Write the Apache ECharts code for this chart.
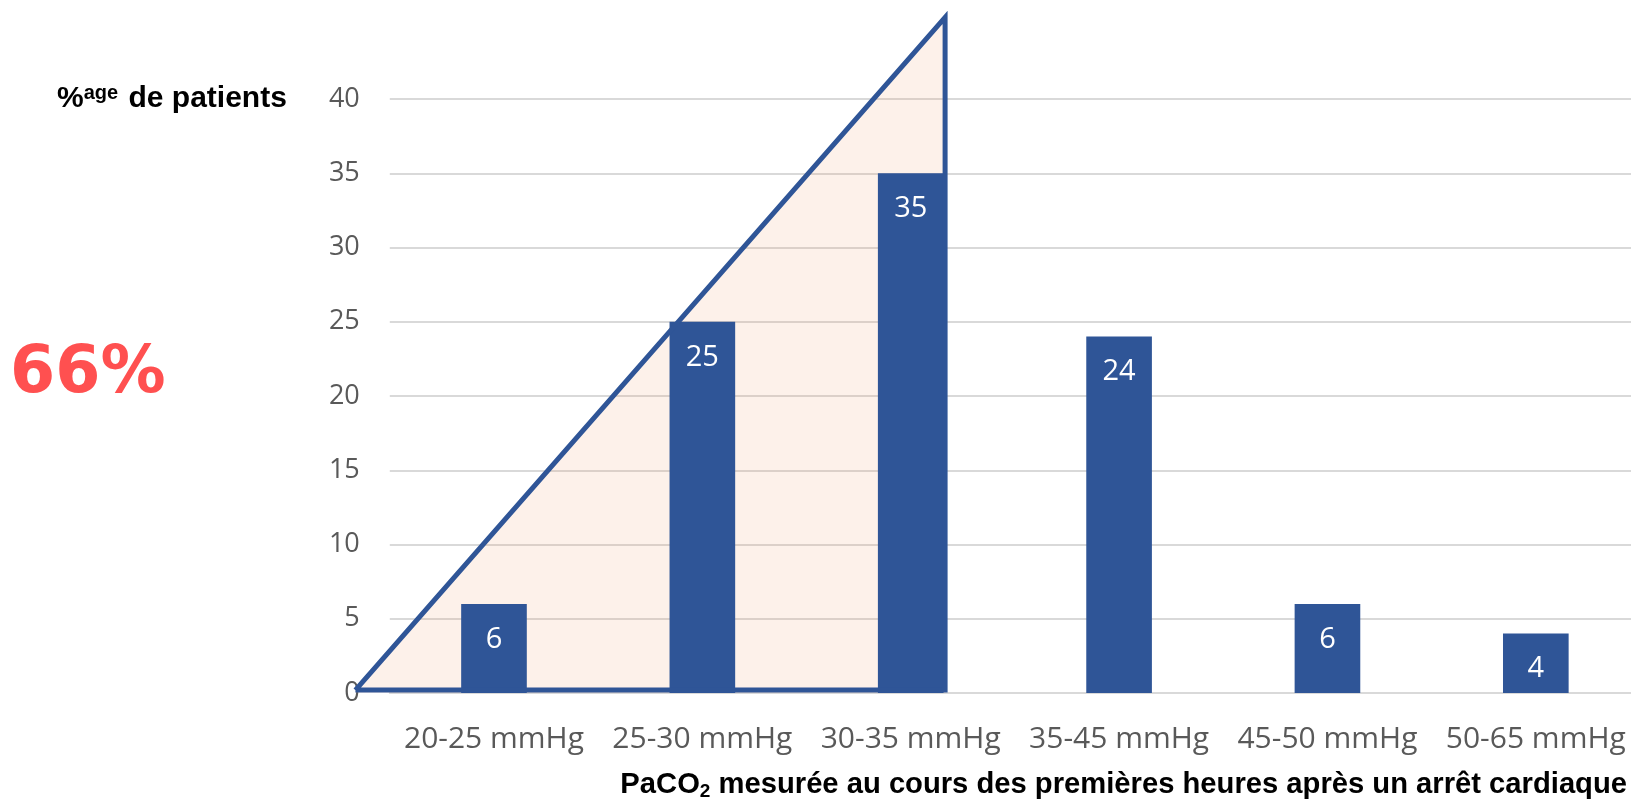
<!DOCTYPE html>
<html>
<head>
<meta charset="utf-8">
<script src="https://cdn.jsdelivr.net/npm/echarts@6/dist/echarts.min.js"></script>
<style>
html,body{margin:0;padding:0;background:#fff;overflow:hidden;width:1631px;height:799px;}
#c{width:1645px;height:799px;}
</style>
</head>
<body>
<div id="c"></div>
<script>
// ---- data ----
const categories = ['20-25 mmHg','25-30 mmHg','30-35 mmHg','35-45 mmHg','45-50 mmHg','50-65 mmHg'];
const percentages = [6, 25, 35, 24, 6, 4];
const yTicks = [0, 5, 10, 15, 20, 25, 30, 35, 40];
// triangle highlighting the hypocapnia groups, in [category-band position, value] units
const triangleArea = [[-0.165, 0.2], [2.665, 45.5], [2.665, 0.2]];
const triangleOutline = [[-0.165, 0.2], [2.665, 45.5], [2.665, 0.2], [-0.165, 0.2]];
const highlightText = '66%';
const yTitle = ['%', 'age', ' de patients'];
const xTitle = ['PaCO', '2', ' mesurée au cours des premières heures après un arrêt cardiaque'];

const blue = '#2F5597';
const plotLeft = 389.8, plotRight = 5, plotTop = 99, plotBottom = 106;
const nCat = categories.length;
const band = (1645 - plotLeft - plotRight) / nCat;
const yMaxMain = yTicks[yTicks.length - 1];
const unitPx = (799 - plotTop - plotBottom) / yMaxMain;
const overlayXMin = -0.25, overlayYMax = 46;

const chart = echarts.init(document.getElementById('c'), null, {renderer: 'canvas'});
chart.setOption({
  backgroundColor: '#ffffff',
  animation: false,
  grid: [
    {left: plotLeft, right: plotRight, top: plotTop, bottom: plotBottom, containLabel: false},
    {left: plotLeft + overlayXMin * band, right: plotRight,
     top: 799 - plotBottom - overlayYMax * unitPx, bottom: plotBottom, containLabel: false}
  ],
  title: [
    {
      text: '{b|' + xTitle[0] + '}{s|' + xTitle[1] + '}{b|' + xTitle[2] + '}',
      right: 13, top: 763,
      textStyle: {rich: {
        b: {fontFamily: 'Liberation Sans, Arial', fontWeight: 'bold', fontSize: 29.2, color: '#000'},
        s: {fontFamily: 'Liberation Sans, Arial', fontWeight: 'bold', fontSize: 19, color: '#000', verticalAlign: 'bottom', padding: [14, 0, 0, 0]}
      }}
    },
    {
      text: '{b|' + yTitle[0] + '}{s|' + yTitle[1] + '}{b|' + yTitle[2] + '}',
      left: 52, top: 78,
      textStyle: {rich: {
        b: {fontFamily: 'Liberation Sans, Arial', fontWeight: 'bold', fontSize: 30, color: '#000'},
        s: {fontFamily: 'Liberation Sans, Arial', fontWeight: 'bold', fontSize: 20, color: '#000', verticalAlign: 'top', padding: [0, 2, 12, 0]}
      }}
    },
    {
      text: highlightText,
      left: 5, top: 338,
      textStyle: {fontFamily: 'DejaVu Sans', fontWeight: 'bold', fontSize: 65, color: '#FF5050'}
    }
  ],
  xAxis: [
    {
      type: 'category', data: categories, gridIndex: 0,
      axisLine: {show: true, lineStyle: {color: '#d9d9d9', width: 2}},
      axisTick: {show: false},
      axisLabel: {color: '#595959', fontSize: 30, fontFamily: 'Open Sans', margin: 31, interval: 0}
    },
    {
      type: 'value', gridIndex: 1, min: overlayXMin, max: nCat, show: false
    }
  ],
  yAxis: [
    {
      type: 'value', gridIndex: 0, min: yTicks[0], max: yMaxMain, interval: 5,
      axisLine: {show: false}, axisTick: {show: false},
      splitLine: {lineStyle: {color: '#d9d9d9', width: 2}},
      axisLabel: {color: '#595959', fontSize: 27, fontFamily: 'Open Sans', margin: 30}
    },
    {
      type: 'value', gridIndex: 1, min: 0, max: overlayYMax, show: false, splitLine: {show: false}
    }
  ],
  series: [
    {
      type: 'line', xAxisIndex: 1, yAxisIndex: 1, data: triangleArea, symbol: 'none',
      lineStyle: {opacity: 0, width: 0},
      areaStyle: {color: 'rgba(240,165,115,0.22)', origin: 'start'},
      z: 1, silent: true
    },
    {
      type: 'bar', xAxisIndex: 0, yAxisIndex: 0, data: percentages, barWidth: '31.5%',
      itemStyle: {color: blue},
      label: {show: true, position: 'insideTop', distance: 21, color: '#fff', fontSize: 29, fontFamily: 'Open Sans'},
      z: 2
    },
    {
      type: 'line', xAxisIndex: 1, yAxisIndex: 1, data: triangleOutline, symbol: 'none',
      lineStyle: {color: blue, width: 5, join: 'miter'},
      z: 3, silent: true
    }
  ]
});
</script>
</body>
</html>
